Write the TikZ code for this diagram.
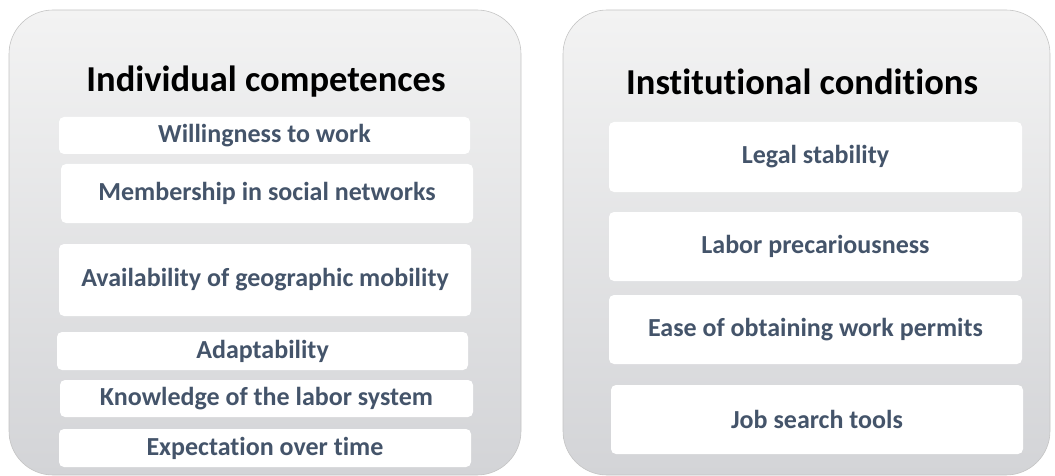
\documentclass[tikz,border=0pt]{standalone}
\usepackage{fontspec}
\setmainfont[Ligatures={NoCommon}]{Carlito}
\definecolor{itemtext}{HTML}{44546A}
\definecolor{paneltop}{HTML}{F3F3F3}
\definecolor{panelbottom}{HTML}{D3D4D7}
\definecolor{paneledge}{HTML}{C4C4C4}
\begin{document}
\begin{tikzpicture}[x=1pt,y=-1pt,
  panel/.style={top color=paneltop,bottom color=panelbottom,draw=paneledge,line width=0.6pt,rounded corners=44pt},
  heading/.style={font=\fontsize{36.5}{40}\selectfont\bfseries,text=black},
  item/.style={fill=white,rounded corners=5pt,text=itemtext,inner sep=0pt,
    font=\fontsize{26}{29}\selectfont\bfseries}]
\useasboundingbox (0,0) rectangle (1055,476);
% the two grey panels
\shadedraw[panel] (9,10) rectangle (521,475);
\shadedraw[panel] (563,10) rectangle (1050,475);
% left column
\node[heading] (indiv) at (266,82) {Individual competences};
\node[item,minimum width=411,minimum height=37] (willing) at (264.5,135.5) {Willingness to work};
\node[item,minimum width=412,minimum height=59] (networks) at (267,193.5) {Membership in social networks};
\node[item,minimum width=412,minimum height=72] (mobility) at (265,280) {Availability of geographic mobility};
\node[item,minimum width=411,minimum height=38] (adapt) at (262.5,351) {Adaptability};
\node[item,minimum width=413,minimum height=37] (knowledge) at (266.5,398.5) {Knowledge of the labor system};
\node[item,minimum width=412,minimum height=38] (expect) at (265,448) {Expectation over time};
% right column
\node[heading] (instit) at (802,82) {Institutional conditions};
\node[item,minimum width=413,minimum height=70] (legal) at (815.5,157) {Legal stability};
\node[item,minimum width=413,minimum height=69] (precarious) at (815.5,246.5) {Labor precariousness};
\node[item,minimum width=413,minimum height=69] (permits) at (815.5,329.5) {Ease of obtaining work permits};
\node[item,minimum width=412,minimum height=69] (jobtools) at (817,419.5) {Job search tools};
\end{tikzpicture}
\end{document}
